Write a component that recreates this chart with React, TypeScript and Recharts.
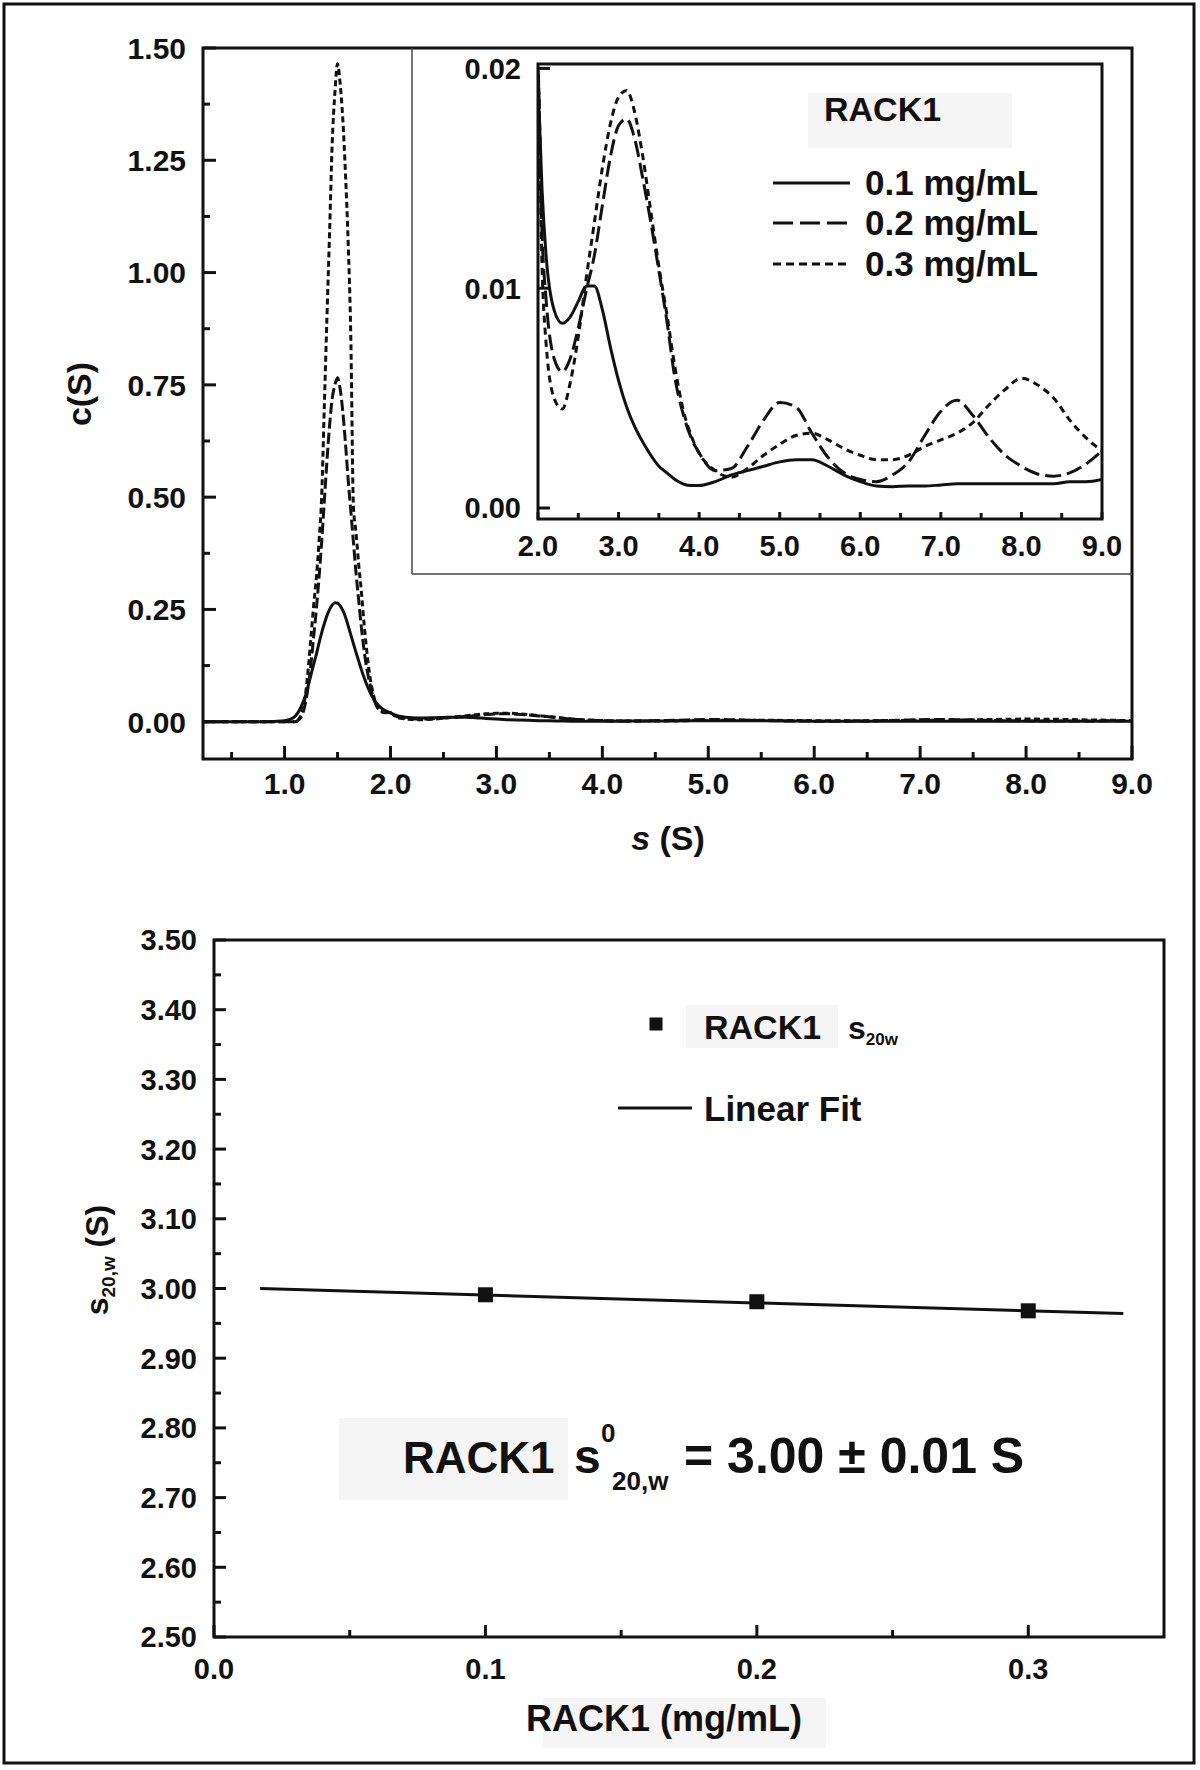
import React from 'react'
import { LineChart, ComposedChart, Line, Scatter, XAxis, YAxis, ReferenceArea } from 'recharts'

// c(s) distributions
const sValues = [
  0.23, 0.5, 0.8, 1.0, 1.05, 1.1, 1.15, 1.2, 1.25,
  1.275, 1.3, 1.325, 1.35, 1.375, 1.4, 1.425, 1.45, 1.475, 1.5,
  1.525, 1.55, 1.575, 1.6, 1.625, 1.65, 1.675, 1.7, 1.725, 1.75, 1.775, 1.8,
  1.85, 1.9, 1.95, 2.0, 2.05, 2.1,
  2.2, 2.3, 2.4, 2.5, 2.6, 2.7, 2.8, 2.9, 3.0,
  3.1, 3.2, 3.3, 3.4, 3.5, 3.6, 3.7, 3.8, 3.9, 4.0,
  4.2, 4.4, 4.6, 4.8, 5.0, 5.2, 5.4, 5.6, 5.8, 6.0, 6.2, 6.4, 6.6,
  6.8, 7.0, 7.2, 7.4, 7.6, 7.8, 8.0, 8.2, 8.4, 8.6, 8.8, 9.0,
]
const conc01 = [
  0, 0, 0, 0.002, 0.005, 0.012, 0.03, 0.06, 0.105,
  0.128, 0.15, 0.175, 0.198, 0.218, 0.236, 0.25, 0.26, 0.265, 0.264,
  0.258, 0.248, 0.233, 0.214, 0.194, 0.174, 0.154, 0.135, 0.116, 0.099, 0.083, 0.069,
  0.047, 0.033, 0.025, 0.0195, 0.0145, 0.0115,
  0.009, 0.0084, 0.0087, 0.0094, 0.0101, 0.0101, 0.009, 0.0073, 0.0058,
  0.0046, 0.0037, 0.003, 0.0024, 0.0019, 0.0016, 0.0013, 0.0011, 0.00102, 0.00102,
  0.0012, 0.0015, 0.0017, 0.0019, 0.0021, 0.0022, 0.0022, 0.0019, 0.0015, 0.0012, 0.001, 0.00097, 0.001,
  0.001, 0.00105, 0.0011, 0.0011, 0.0011, 0.0011, 0.0011, 0.0011, 0.0011, 0.0012, 0.0012, 0.0013,
]
const conc02 = [
  0, 0, 0, 0, 0, 0, 0.008, 0.045, 0.13,
  0.19, 0.25, 0.32, 0.4, 0.49, 0.58, 0.66, 0.72, 0.75, 0.766,
  0.74, 0.69, 0.62, 0.54, 0.47, 0.4, 0.33, 0.27, 0.21, 0.16, 0.12, 0.09,
  0.045, 0.026, 0.021, 0.0199, 0.0125, 0.0095,
  0.0068, 0.0062, 0.0068, 0.0082, 0.0099, 0.0115, 0.0138, 0.016, 0.0174,
  0.0177, 0.0168, 0.015, 0.013, 0.0108, 0.0085, 0.0059, 0.0043, 0.0032, 0.0025,
  0.0017, 0.0018, 0.0028, 0.004, 0.0048, 0.0046, 0.0034, 0.0023, 0.0016, 0.0013, 0.0012, 0.0015, 0.0021,
  0.0033, 0.0044, 0.0049, 0.0042, 0.0032, 0.0024, 0.0019, 0.00155, 0.00145, 0.0016, 0.002, 0.0026,
]
const conc03 = [
  0, 0, 0, 0, 0, 0, 0.012, 0.065, 0.19,
  0.26, 0.32, 0.4, 0.5, 0.7, 0.9, 1.09, 1.29, 1.4, 1.465,
  1.42, 1.34, 1.22, 1.07, 0.86, 0.48, 0.42, 0.35, 0.29, 0.22, 0.16, 0.11,
  0.05, 0.024, 0.02, 0.0199, 0.011, 0.0075,
  0.005, 0.0045, 0.0057, 0.0078, 0.0105, 0.013, 0.0155, 0.0175, 0.0187,
  0.019, 0.018, 0.016, 0.0135, 0.011, 0.0088, 0.0064, 0.0045, 0.0033, 0.0025,
  0.0017, 0.0014, 0.0018, 0.0024, 0.0029, 0.0033, 0.0034, 0.0031, 0.0027, 0.0024, 0.0022, 0.0022, 0.0024,
  0.0028, 0.0031, 0.0034, 0.0039, 0.0047, 0.0054, 0.0059, 0.0056, 0.005, 0.004, 0.0032, 0.0026,
]

// s20,w vs concentration
const concentrations = [0.1, 0.2, 0.3]
const s20w = [2.991, 2.981, 2.968]
const fitConc = [0.017, 0.335]
const fitS = [3.0, 2.964]

// ticks
const mainXTicks = [0.5, 1, 1.5, 2, 2.5, 3, 3.5, 4, 4.5, 5, 5.5, 6, 6.5, 7, 7.5, 8, 8.5, 9]
const mainXMajor = [1, 2, 3, 4, 5, 6, 7, 8, 9]
const mainYTicks = [0, 0.125, 0.25, 0.375, 0.5, 0.625, 0.75, 0.875, 1, 1.125, 1.25, 1.375, 1.5]
const mainYMajor = [0, 0.25, 0.5, 0.75, 1, 1.25, 1.5]
const insetXTicks = [2, 2.5, 3, 3.5, 4, 4.5, 5, 5.5, 6, 6.5, 7, 7.5, 8, 8.5, 9]
const insetXMajor = [2, 3, 4, 5, 6, 7, 8, 9]
const insetYTicks = [0, 0.01, 0.02]
const lowXTicks = [0, 0.05, 0.1, 0.15, 0.2, 0.25, 0.3]
const lowXMajor = [0, 0.1, 0.2, 0.3]
const lowYTicks = [2.5, 2.55, 2.6, 2.65, 2.7, 2.75, 2.8, 2.85, 2.9, 2.95, 3.0, 3.05, 3.1, 3.15, 3.2, 3.25, 3.3, 3.35, 3.4, 3.45, 3.5]
const lowYMajor = [2.5, 2.6, 2.7, 2.8, 2.9, 3.0, 3.1, 3.2, 3.3, 3.4, 3.5]

const profile = sValues.map((s, i) => ({ s, c01: conc01[i], c02: conc02[i], c03: conc03[i] }))
const points = concentrations.map((c, i) => ({ c, s: s20w[i] }))
const fit = fitConc.map((c, i) => ({ c, s: fitS[i] }))

const FONT = '"Liberation Sans", Arial, Helvetica, sans-serif'
const INK = '#111'

type TickOpts = {
  major: number[]
  fmt: (v: number) => string
  majorLen: number
  minorLen: number
  fontSize: number
  gap: number
}

const isIn = (list: number[], v: number) => list.some((m) => Math.abs(m - v) < 1e-6)

const bottomTick = (o: TickOpts) => (props: any) => {
  const { x, y, payload } = props
  const major = isIn(o.major, payload.value)
  const len = major ? o.majorLen : o.minorLen
  return (
    <g>
      <line x1={x} x2={x} y1={y} y2={y - len} stroke={INK} strokeWidth={3} />
      {major && (
        <text x={x} y={y + o.gap} textAnchor="middle" fontFamily={FONT} fontWeight="bold" fontSize={o.fontSize} fill={INK}>
          {o.fmt(payload.value)}
        </text>
      )}
    </g>
  )
}

const leftTick = (o: TickOpts) => (props: any) => {
  const { x, y, payload } = props
  const major = isIn(o.major, payload.value)
  const len = major ? o.majorLen : o.minorLen
  return (
    <g>
      <line x1={x} x2={x + len} y1={y} y2={y} stroke={INK} strokeWidth={3} />
      {major && (
        <text x={x - o.gap} y={y} dy="0.36em" textAnchor="end" fontFamily={FONT} fontWeight="bold" fontSize={o.fontSize} fill={INK}>
          {o.fmt(payload.value)}
        </text>
      )}
    </g>
  )
}

const squareDot = (props: any) => (
  <rect x={props.cx - 7.5} y={props.cy - 7.5} width={15} height={15} fill={INK} />
)

const txt = { fontFamily: FONT, fontWeight: 'bold' as const, fill: INK }

export default function App() {
  return (
    <div style={{ position: 'absolute', left: 0, top: 0, width: 1200, height: 1770, background: '#fff' }}>
      {/* main c(s) plot */}
      <div style={{ position: 'absolute', left: 0, top: 0 }}>
        <LineChart width={1200} height={880} data={profile} margin={{ top: 48, right: 68, bottom: 81, left: 153 }}>
          <XAxis
            type="number"
            dataKey="s"
            domain={[0.23, 9]}
            allowDataOverflow
            ticks={mainXTicks}
            interval={0}
            height={40}
            tickSize={0}
            tickMargin={0}
            axisLine={false}
            tickLine={false}
            tick={bottomTick({ major: mainXMajor, fmt: (v) => v.toFixed(1), majorLen: 13, minorLen: 7, fontSize: 30, gap: 35 })}
          />
          <YAxis
            type="number"
            domain={[-0.083, 1.5]}
            allowDataOverflow
            ticks={mainYTicks}
            interval={0}
            width={50}
            tickSize={0}
            tickMargin={0}
            axisLine={false}
            tickLine={false}
            tick={leftTick({ major: mainYMajor, fmt: (v) => v.toFixed(2), majorLen: 13, minorLen: 7, fontSize: 30, gap: 17 })}
          />
          <ReferenceArea x1={0.23} x2={9} y1={-0.083} y2={1.5} fill="none" stroke={INK} strokeWidth={3} ifOverflow="visible" />
          <Line type="monotone" dataKey="c01" stroke={INK} strokeWidth={3} dot={false} isAnimationActive={false} />
          <Line type="monotone" dataKey="c02" stroke={INK} strokeWidth={3} strokeDasharray="11 4" dot={false} isAnimationActive={false} />
          <Line type="monotone" dataKey="c03" stroke={INK} strokeWidth={3} strokeDasharray="6 3.5" dot={false} isAnimationActive={false} />
        </LineChart>
      </div>

      {/* inset, 2-9 S */}
      <div style={{ position: 'absolute', left: 412, top: 48 }}>
        <LineChart width={720} height={526} data={profile} margin={{ top: 16, right: 30, bottom: 15, left: 76 }}>
          <XAxis
            type="number"
            dataKey="s"
            domain={[2, 9]}
            allowDataOverflow
            ticks={insetXTicks}
            interval={0}
            height={40}
            tickSize={0}
            tickMargin={0}
            axisLine={false}
            tickLine={false}
            tick={bottomTick({ major: insetXMajor, fmt: (v) => v.toFixed(1), majorLen: 7, minorLen: 6, fontSize: 29, gap: 37 })}
          />
          <YAxis
            type="number"
            domain={[-0.0005, 0.0202]}
            allowDataOverflow
            ticks={insetYTicks}
            interval={0}
            width={50}
            tickSize={0}
            tickMargin={0}
            axisLine={false}
            tickLine={false}
            tick={leftTick({ major: insetYTicks, fmt: (v) => v.toFixed(2), majorLen: 12, minorLen: 0, fontSize: 29, gap: 17 })}
          />
          <ReferenceArea x1={2} x2={9} y1={-0.0005} y2={0.0202} fill="none" stroke={INK} strokeWidth={3} ifOverflow="visible" />
          <Line type="monotone" dataKey="c01" stroke={INK} strokeWidth={3} dot={false} isAnimationActive={false} />
          <Line type="monotone" dataKey="c02" stroke={INK} strokeWidth={3} strokeDasharray="16 6" dot={false} isAnimationActive={false} />
          <Line type="monotone" dataKey="c03" stroke={INK} strokeWidth={3} strokeDasharray="7 5" dot={false} isAnimationActive={false} />
        </LineChart>
      </div>

      {/* s20,w vs concentration */}
      <div style={{ position: 'absolute', left: 0, top: 880 }}>
        <ComposedChart width={1200} height={890} margin={{ top: 60, right: 36, bottom: 93, left: 164 }}>
          <XAxis
            type="number"
            dataKey="c"
            domain={[0, 0.35]}
            allowDataOverflow
            ticks={lowXTicks}
            interval={0}
            height={40}
            tickSize={0}
            tickMargin={0}
            axisLine={false}
            tickLine={false}
            tick={bottomTick({ major: lowXMajor, fmt: (v) => v.toFixed(1), majorLen: 12, minorLen: 7, fontSize: 29, gap: 42 })}
          />
          <YAxis
            type="number"
            dataKey="s"
            domain={[2.5, 3.5]}
            allowDataOverflow
            ticks={lowYTicks}
            interval={0}
            width={50}
            tickSize={0}
            tickMargin={0}
            axisLine={false}
            tickLine={false}
            tick={leftTick({ major: lowYMajor, fmt: (v) => v.toFixed(2), majorLen: 12, minorLen: 7, fontSize: 29, gap: 17 })}
          />
          <ReferenceArea x1={0} x2={0.35} y1={2.5} y2={3.5} fill="none" stroke={INK} strokeWidth={3} ifOverflow="visible" />
          <Line data={fit} type="linear" dataKey="s" stroke={INK} strokeWidth={3} dot={false} isAnimationActive={false} />
          <Scatter data={points} dataKey="s" shape={squareDot} isAnimationActive={false} />
        </ComposedChart>
      </div>

      {/* labels, legends, frame */}
      <svg width={1200} height={1770} style={{ position: 'absolute', left: 0, top: 0, pointerEvents: 'none' }}>
        <rect x={4} y={4} width={1190} height={1759} fill="none" stroke={INK} strokeWidth={3} />
        <line x1={412} y1={48} x2={412} y2={574} stroke="#444" strokeWidth={1.5} />
        <line x1={412} y1={574} x2={1132} y2={574} stroke="#444" strokeWidth={1.5} />

        <text {...txt} transform="translate(91,394) rotate(-90)" textAnchor="middle" fontSize={34}>c(S)</text>
        <text {...txt} x={668} y={850} textAnchor="middle" fontSize={34}>
          <tspan fontStyle="italic">s</tspan> (S)
        </text>

        {/* inset legend */}
        <rect x={808} y={93} width={204} height={55} fill="#f5f5f5" />
        <text {...txt} x={824} y={121} fontSize={34}>RACK1</text>
        <line x1={773} x2={850} y1={183} y2={183} stroke={INK} strokeWidth={3} />
        <line x1={773} x2={850} y1={223} y2={223} stroke={INK} strokeWidth={3} strokeDasharray="20 7" />
        <line x1={773} x2={850} y1={264} y2={264} stroke={INK} strokeWidth={3} strokeDasharray="8 5" />
        <text {...txt} x={865} y={195} fontSize={35}>0.1 mg/mL</text>
        <text {...txt} x={865} y={235} fontSize={35}>0.2 mg/mL</text>
        <text {...txt} x={865} y={276} fontSize={35}>0.3 mg/mL</text>

        {/* lower legend */}
        <rect x={649.5} y={1017.5} width={13} height={13} fill={INK} />
        <rect x={686} y={1005} width={152} height={43} fill="#f5f5f5" />
        <text {...txt} x={704} y={1039} fontSize={34}>RACK1</text>
        <text {...txt} x={848} y={1039} fontSize={32}>
          s<tspan fontSize={17} dy={6}>20w</tspan>
        </text>
        <line x1={618} x2={692} y1={1108} y2={1108} stroke={INK} strokeWidth={3} />
        <text {...txt} x={704} y={1121} fontSize={35}>Linear Fit</text>

        {/* lower axis titles */}
        <text {...txt} transform="translate(108,1260) rotate(-90)" textAnchor="middle" fontSize={32}>
          s<tspan fontSize={19} dy={7}>20,w</tspan>
          <tspan dy={-7}> (S)</tspan>
        </text>
        <rect x={543} y={1698} width={283} height={50} fill="#f5f5f5" />
        <text {...txt} x={664} y={1731} textAnchor="middle" fontSize={36}>RACK1 (mg/mL)</text>

        {/* result annotation */}
        <rect x={339} y={1418} width={229} height={82} fill="#f5f5f5" />
        <text {...txt} x={403} y={1473} fontSize={44}>RACK1</text>
        <text {...txt} x={574} y={1473} fontSize={48}>s</text>
        <text {...txt} x={601} y={1442} fontSize={26}>0</text>
        <text {...txt} x={612} y={1490} fontSize={26}>20,w</text>
        <text {...txt} x={684} y={1473} fontSize={50}>= 3.00 ± 0.01 S</text>
      </svg>
    </div>
  )
}
